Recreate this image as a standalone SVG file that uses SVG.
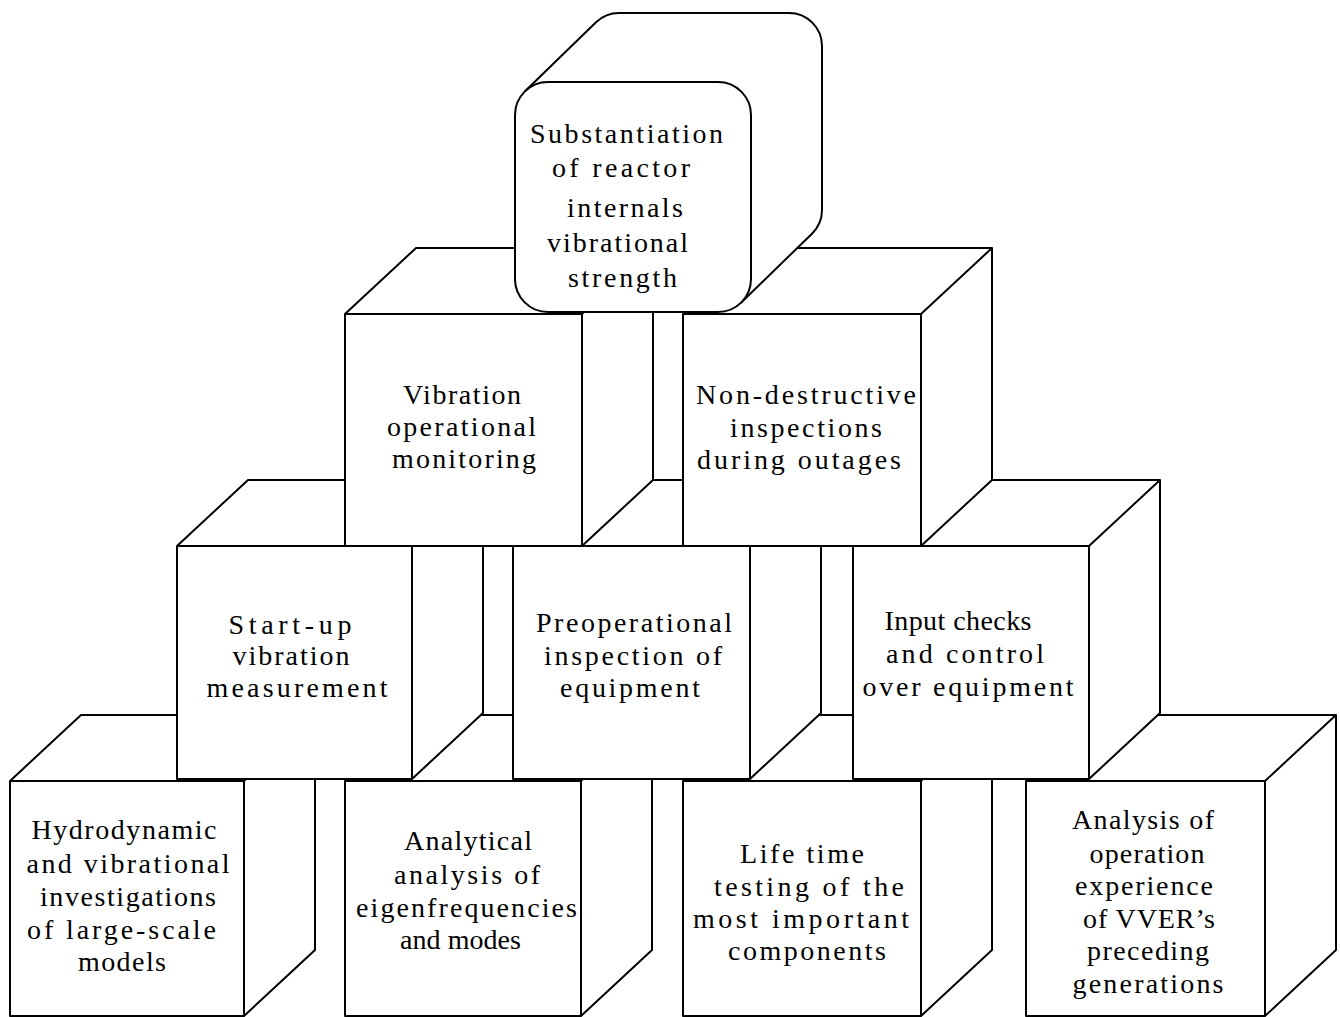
<svg xmlns="http://www.w3.org/2000/svg" width="1340" height="1017" viewBox="0 0 1340 1017">
<style>
.face{fill:#fff;stroke:#000;stroke-width:2;stroke-linejoin:round}
.edge{fill:none;stroke:#000;stroke-width:2}
.t{font-family:"Liberation Serif","Times New Roman",serif;font-size:28px;text-anchor:middle;fill:#000}
</style>
<rect width="1340" height="1017" fill="#fff"/>
<g id="connectors"/>
<!-- Row 4 -->
<g id="hydrodynamic">
<path class="face" d="M10,1016 V781 l71,-66 h234 v235 l-71,66 Z"/>
<path class="edge" d="M10,781 h234 l71,-66 M244,781 v235"/>
<text class="t" x="124" y="839" textLength="185" lengthAdjust="spacing">Hydrodynamic</text>
<text class="t" x="128" y="873" textLength="203" lengthAdjust="spacing">and vibrational</text>
<text class="t" x="128" y="906" textLength="176" lengthAdjust="spacing">investigations</text>
<text class="t" x="121.5" y="939" textLength="189" lengthAdjust="spacing">of large-scale</text>
<text class="t" x="122" y="971" textLength="88" lengthAdjust="spacing">models</text>
</g>
<g id="analytical">
<path class="face" d="M345,1016 V781 l71,-66 h236 v235 l-71,66 Z"/>
<path class="edge" d="M345,781 h236 l71,-66 M581,781 v235"/>
<text class="t" x="468" y="850" textLength="128" lengthAdjust="spacing">Analytical</text>
<text class="t" x="467" y="884" textLength="146" lengthAdjust="spacing">analysis of</text>
<text class="t" x="466.5" y="917" textLength="221" lengthAdjust="spacing">eigenfrequencies</text>
<text class="t" x="460.5" y="949" textLength="121" lengthAdjust="spacing">and modes</text>
</g>
<g id="lifetime">
<path class="face" d="M683,1016 V781 l71,-66 h238 v235 l-71,66 Z"/>
<path class="edge" d="M683,781 h238 l71,-66 M921,781 v235"/>
<text class="t" x="802" y="863" textLength="124" lengthAdjust="spacing">Life time</text>
<text class="t" x="809" y="896" textLength="190" lengthAdjust="spacing">testing of the</text>
<text class="t" x="801" y="928" textLength="216" lengthAdjust="spacing">most important</text>
<text class="t" x="807" y="960" textLength="158" lengthAdjust="spacing">components</text>
</g>
<g id="operation-experience">
<path class="face" d="M1026,1016 V781 l71,-66 h239 v235 l-71,66 Z"/>
<path class="edge" d="M1026,781 h239 l71,-66 M1265,781 v235"/>
<text class="t" x="1143" y="829" textLength="142" lengthAdjust="spacing">Analysis of</text>
<text class="t" x="1147" y="863" textLength="115" lengthAdjust="spacing">operation</text>
<text class="t" x="1144" y="895" textLength="138" lengthAdjust="spacing">experience</text>
<text class="t" x="1149" y="928" textLength="132" lengthAdjust="spacing">of VVER’s</text>
<text class="t" x="1148" y="960" textLength="122" lengthAdjust="spacing">preceding</text>
<text class="t" x="1148" y="993" textLength="151" lengthAdjust="spacing">generations</text>
</g>
<!-- Row 3 -->
<g id="startup">
<path class="face" d="M177,779 V546 l71,-66 h235 v233 l-71,66 Z"/>
<path class="edge" d="M177,546 h235 l71,-66 M412,546 v233"/>
<text class="t" x="290" y="634" textLength="123" lengthAdjust="spacing">Start-up</text>
<text class="t" x="291" y="665" textLength="117" lengthAdjust="spacing">vibration</text>
<text class="t" x="297" y="697" textLength="181" lengthAdjust="spacing">measurement</text>
</g>
<g id="preoperational">
<path class="face" d="M513,779 V546 l71,-66 h237 v233 l-71,66 Z"/>
<path class="edge" d="M513,546 h237 l71,-66 M750,546 v233"/>
<text class="t" x="634" y="632" textLength="196" lengthAdjust="spacing">Preoperational</text>
<text class="t" x="633" y="665" textLength="178" lengthAdjust="spacing">inspection of</text>
<text class="t" x="630" y="697" textLength="140" lengthAdjust="spacing">equipment</text>
</g>
<g id="input-checks">
<path class="face" d="M853,779 V546 l71,-66 h236 v233 l-71,66 Z"/>
<path class="edge" d="M853,546 h236 l71,-66 M1089,546 v233"/>
<text class="t" x="958" y="630" textLength="147" lengthAdjust="spacing">Input checks</text>
<text class="t" x="965" y="663" textLength="158" lengthAdjust="spacing">and control</text>
<text class="t" x="968" y="696" textLength="211" lengthAdjust="spacing">over equipment</text>
</g>
<!-- Row 2 -->
<g id="vibration-monitoring">
<path class="face" d="M345,546 V314 l71,-66 h237 v232 l-71,66 Z"/>
<path class="edge" d="M345,314 h237 l71,-66 M582,314 v232"/>
<text class="t" x="462" y="404" textLength="118" lengthAdjust="spacing">Vibration</text>
<text class="t" x="461.5" y="436" textLength="149" lengthAdjust="spacing">operational</text>
<text class="t" x="464" y="468" textLength="144" lengthAdjust="spacing">monitoring</text>
</g>
<g id="non-destructive">
<path class="face" d="M683,546 V314 l71,-66 h238 v232 l-71,66 Z"/>
<path class="edge" d="M683,314 h238 l71,-66 M921,314 v232"/>
<text class="t" x="806" y="404" textLength="220" lengthAdjust="spacing">Non-destructive</text>
<text class="t" x="806" y="437" textLength="152" lengthAdjust="spacing">inspections</text>
<text class="t" x="799" y="469" textLength="204" lengthAdjust="spacing">during outages</text>
</g>
<!-- Top -->
<g id="substantiation">
<path class="face" d="M525,91.3 L596,22.3 A33,33 0 0 1 619,13 L789,13 A33,33 0 0 1 822,46 L822,210 A33,33 0 0 1 812,233.7 L741,302.7 Z"/>
<rect class="face" x="515" y="82" width="236" height="230" rx="33" ry="33"/>
<text class="t" x="626.5" y="143" textLength="193" lengthAdjust="spacing">Substantiation</text>
<text class="t" x="621" y="177" textLength="138" lengthAdjust="spacing">of reactor</text>
<text class="t" x="625" y="217" textLength="116" lengthAdjust="spacing">internals</text>
<text class="t" x="617.5" y="252" textLength="141" lengthAdjust="spacing">vibrational</text>
<text class="t" x="622.5" y="287" textLength="109" lengthAdjust="spacing">strength</text>
</g>
</svg>
